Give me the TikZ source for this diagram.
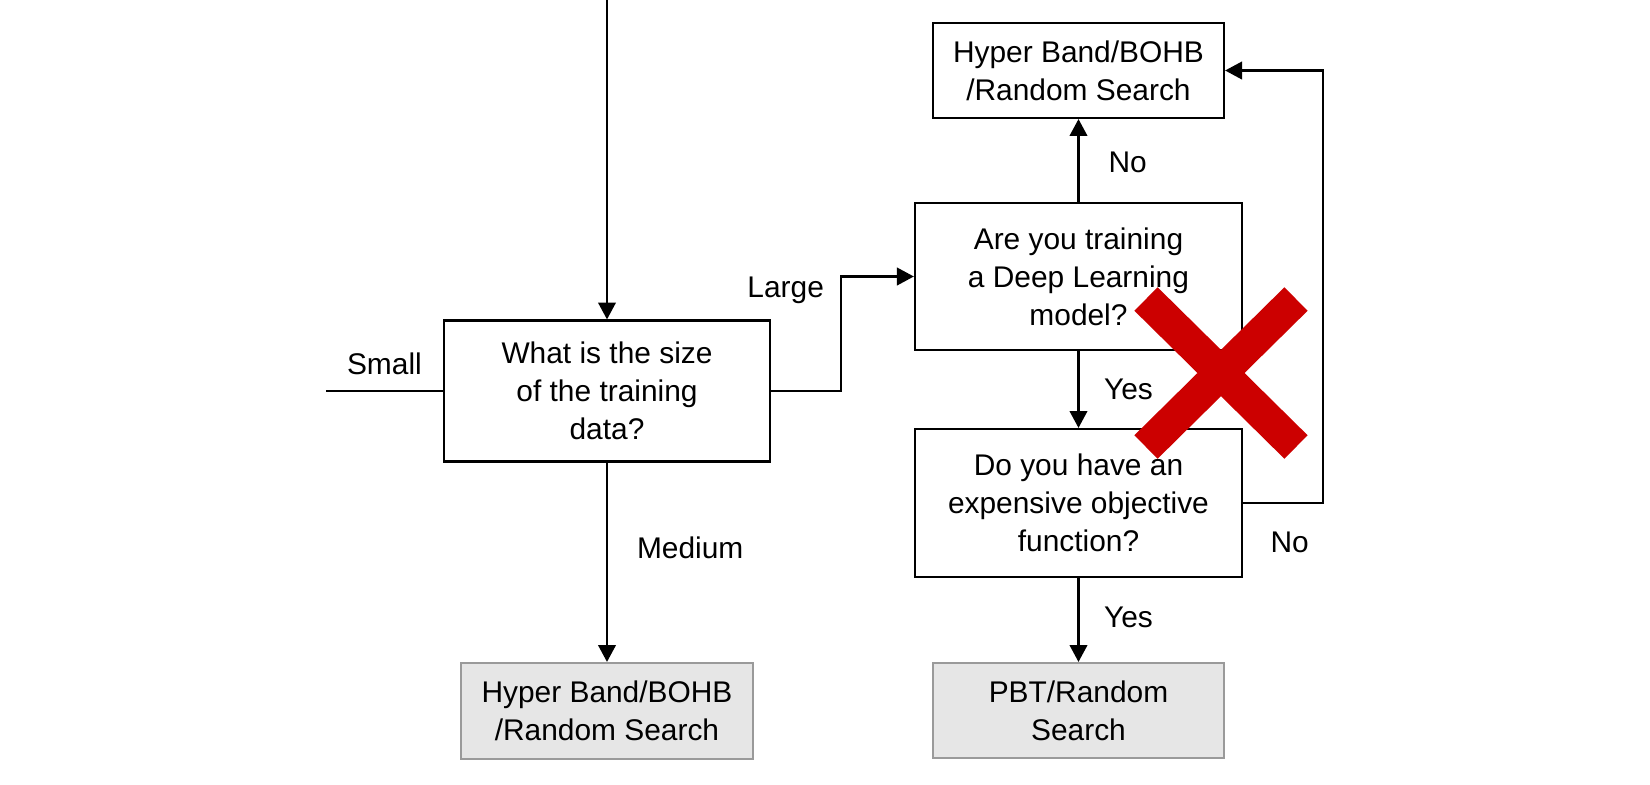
\documentclass[tikz,border=0pt]{standalone}
\usepackage{fontspec}
\setmainfont{Liberation Sans}
\usetikzlibrary{arrows.meta}
\definecolor{boxgray}{HTML}{E6E6E6}
\definecolor{boxline}{HTML}{9A9A9A}
\definecolor{crossred}{HTML}{CC0000}
\newcommand\lbl{\fontsize{8.5}{10.8}\selectfont}

\begin{document}
\begin{tikzpicture}[x=0.01cm, y=-0.01cm, line width=0.6pt, font=\lbl,
  >={Triangle[length=4.8pt,width=5pt]},
  q/.style={draw, inner sep=0pt, align=center},
  a/.style={q, fill=boxgray, draw=boxline},
  e/.style={inner sep=0pt}]
\useasboundingbox (0,0) rectangle (1650,784);
\node[q, minimum width=3.26cm, minimum height=1.41cm](size) at (607,391){What is the size\\of the training\\data?};
\node[q, minimum width=3.27cm, minimum height=1.47cm](dl) at (1078.5,276.5){Are you training\\a Deep Learning\\model?};
\node[q, minimum width=3.27cm, minimum height=1.48cm](obj) at (1078.5,503){Do you have an\\expensive objective\\function?};
\node[q, minimum width=2.91cm, minimum height=0.95cm](hb1) at (1078.5,70.5){Hyper Band/BOHB\\/Random Search};
\node[a, minimum width=2.92cm, minimum height=0.96cm](hb2) at (607,711){Hyper Band/BOHB\\/Random Search};
\node[a, minimum width=2.91cm, minimum height=0.95cm](pbt) at (1078.5,710.5){PBT/Random\\Search};
\coordinate (in) at (607,0);
\coordinate (sm) at (326,391);
\coordinate (lb) at (841,391);
\coordinate (rb) at (1323,503);
\draw [->](in) -- (size);
\draw (size) -- (sm) node[e, anchor=base, pos=.5, yshift=0.16cm]{Small};
\draw [->](size) -- (lb) |- (dl) node[e, anchor=base east, pos=.5, xshift=-0.16cm, yshift=-0.21cm]{Large};
\draw [->](size) -- (hb2) node[e, anchor=base west, pos=.48, xshift=0.29cm]{Medium};
\draw [->](dl) -- (hb1) node[e, anchor=base west, pos=.35, xshift=0.29cm]{No};
\draw [->](dl) -- (obj) node[e, anchor=base west, pos=.63, xshift=0.245cm]{Yes};
\draw [->](obj) -- (pbt) node[e, anchor=base west, pos=.59, xshift=0.245cm]{Yes};
\draw [->](obj) -- (rb) node[e, anchor=base west, pos=.33, yshift=-0.49cm]{No} |- (hb1);
\draw [crossred, line width=0.33cm] (1146,299) -- (1296,447) (1146,447) -- (1296,299);
\end{tikzpicture}
\end{document}
